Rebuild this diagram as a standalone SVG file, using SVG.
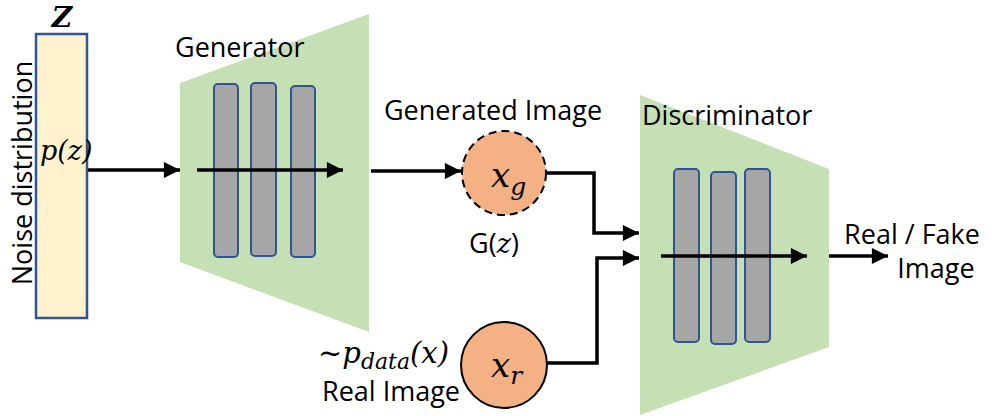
<svg xmlns="http://www.w3.org/2000/svg" width="992" height="416" viewBox="0 0 992 416">
<defs>
<marker id="ah" viewBox="0 0 10 10" refX="10" refY="5" markerWidth="5" markerHeight="4.6" orient="auto" markerUnits="strokeWidth"><path d="M0,0 L10,5 L0,10 z" fill="#000"/></marker>
<style>
.lbl{font-family:"Open Sans","Noto Sans",sans-serif;font-size:27px;fill:#000}
.math{font-family:"DejaVu Serif","Liberation Serif",serif;font-style:italic;fill:#000}
.bar{fill:#a6a6a6;stroke:#2f5597;stroke-width:2}
.trap{fill:#c5e0b4}
.conn{fill:none;stroke:#000;stroke-width:3.5;marker-end:url(#ah)}
.circ{fill:#f4b183;stroke:#000;stroke-width:2}
</style>
</defs>
<rect width="992" height="416" fill="#fff"/>
<g id="noise">
<rect x="36" y="34" width="51" height="284" fill="#fff2cc" stroke="#2f5597" stroke-width="2.5"/>
<text class="math" x="62" y="27" font-size="28" font-weight="bold" text-anchor="middle">Z</text>
<text class="lbl" transform="translate(32,173) rotate(-90)" text-anchor="middle">Noise distribution</text>
<text class="math" x="40" y="160" font-size="27">p(z)</text>
</g>
<g id="generator">
<polygon class="trap" points="180,83 369,14 369,332 180,262"/>
<text class="lbl" x="175" y="57">Generator</text>
<rect class="bar" x="214" y="84" width="24" height="173" rx="4"/>
<rect class="bar" x="251" y="83" width="25" height="173" rx="4"/>
<rect class="bar" x="291" y="86" width="24" height="171" rx="4"/>
</g>
<g id="xg">
<text class="lbl" x="493" y="120" text-anchor="middle">Generated Image</text>
<circle class="circ" cx="504" cy="173" r="42" stroke-dasharray="8,5"/>
<text class="math" x="491" y="187" font-size="34">x<tspan font-size="25" dy="8">g</tspan></text>
<text class="lbl" x="494" y="253" text-anchor="middle">G(<tspan class="math">z</tspan>)</text>
</g>
<g id="xr">
<circle class="circ" cx="504" cy="365" r="43"/>
<text class="math" x="491" y="377" font-size="34">x<tspan font-size="25" dy="7">r</tspan></text>
<text class="math" x="318" y="363" font-size="29">~p<tspan font-size="22" dy="6">data</tspan><tspan dy="-6">(x)</tspan></text>
<text class="lbl" x="391" y="401" text-anchor="middle">Real Image</text>
</g>
<g id="discriminator">
<polygon class="trap" points="640,95 829,169 829,347 640,415"/>
<text class="lbl" x="642" y="125">Discriminator</text>
<rect class="bar" x="674" y="169" width="25" height="173" rx="4"/>
<rect class="bar" x="711" y="172" width="25" height="172" rx="4"/>
<rect class="bar" x="745" y="169" width="25" height="173" rx="4"/>
</g>
<g id="output">
<text class="lbl" x="912" y="244" text-anchor="middle">Real / Fake</text>
<text class="lbl" x="936" y="278" text-anchor="middle">Image</text>
</g>
<g id="connectors">
<path class="conn" d="M88,170 H180"/>
<path class="conn" d="M197,170 H343"/>
<path class="conn" d="M371,171 H461"/>
<path class="conn" d="M546,173 H594 V233 H639"/>
<path class="conn" d="M547,363 H597 V258 H639"/>
<path class="conn" d="M661,256 H807"/>
<path class="conn" d="M829,256 H888"/>
</g>
</svg>
